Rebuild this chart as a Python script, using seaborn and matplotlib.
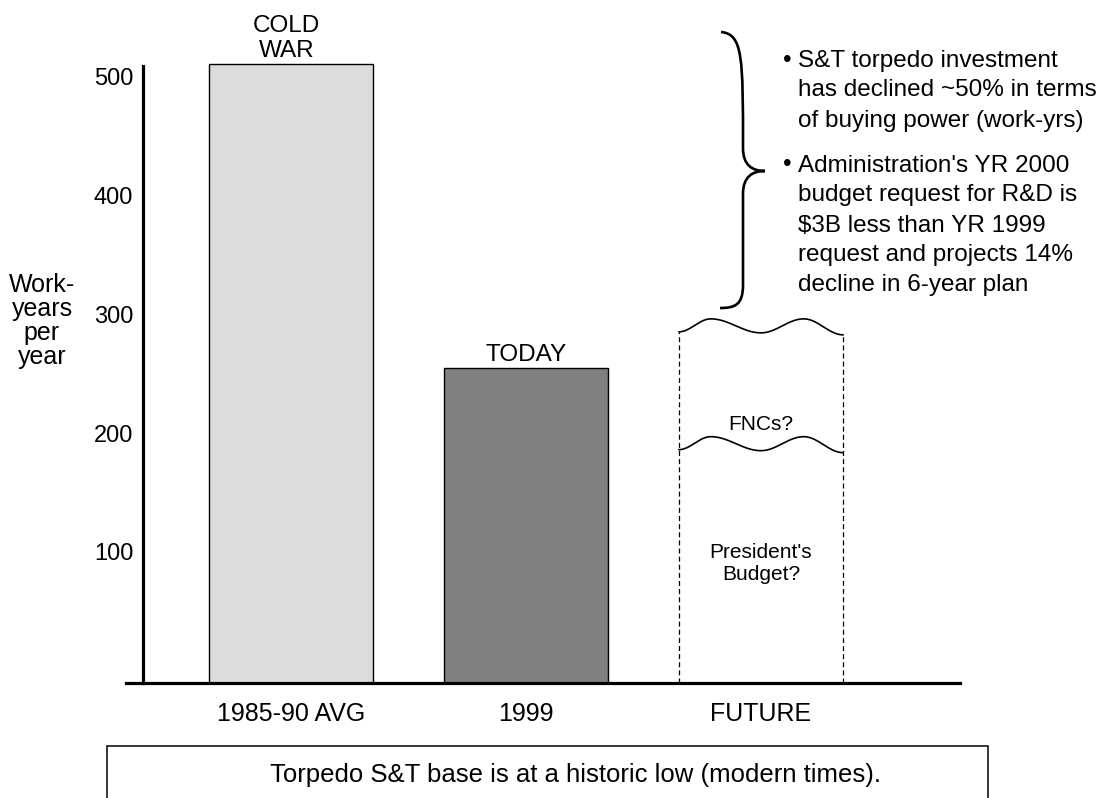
import numpy as np
import pandas as pd
import matplotlib
matplotlib.use("Agg")
import matplotlib.pyplot as plt
import matplotlib.transforms as mtransforms
from matplotlib.path import Path
from matplotlib.patches import PathPatch, Rectangle
import seaborn as sns

# ---------------- data ----------------
categories = ["1985-90 AVG", "1999", "FUTURE"]
bar_values = [520, 265]                 # work-years per year
bar_labels = ["COLD\nWAR", "TODAY"]
bar_colors = ["#dcdcdc", "#808080"]
future_upper = 306                      # top of "FNCs?" band
future_lower = 207                      # top of "President's Budget?" band
future_texts = ["FNCs?", "President's\nBudget?"]
yticks = [100, 200, 300, 400, 500]
ylabel = "Work-\nyears\nper\nyear"
bullets = [
    ["S&T torpedo investment", "has declined ~50% in terms", "of buying power (work-yrs)"],
    ["Administration's YR 2000", "budget request for R&D is", "$3B less than YR 1999",
     "request and projects 14%", "decline in 6-year plan"],
]
footer = "Torpedo S&T base is at a historic low (modern times)."

# ---------------- setup ----------------
W, H, DPI = 1108, 798, 100
sns.set_theme(style="white")
plt.rcParams['font.family'] = ['Liberation Sans', 'DejaVu Sans']
FS = 17.5
FS_SMALL = 15

fig = plt.figure(figsize=(W / DPI, H / DPI), dpi=DPI)
fig.patch.set_facecolor("white")

def fx(px):
    return px / W

def fy(py):
    return 1 - py / H

PX_PER_UNIT = 1.19
ax = fig.add_axes([fx(126), fy(683), fx(960) - fx(126), fy(0) - fy(683)])
ax.set_facecolor("white")

df = pd.DataFrame({"period": categories[:2], "value": bar_values})
sns.barplot(data=df, x="period", y="value", hue="period", order=categories,
            hue_order=categories[:2], palette=dict(zip(categories[:2], bar_colors)),
            width=0.7, edgecolor="black", linewidth=1.0, legend=False, ax=ax,
            saturation=1)

ax.set_xlim(-0.702, 2.847)
ax.set_ylim(0, 683 / PX_PER_UNIT)
ax.set_xlabel("")
ax.set_ylabel("")

for s in ["top", "right"]:
    ax.spines[s].set_visible(False)
ax.spines["bottom"].set_linewidth(2.3)
ax.spines["bottom"].set_color("black")
ax.spines["left"].set_linewidth(2.3)
ax.spines["left"].set_color("black")
ax.spines["left"].set_position(("data", -0.63))
ax.spines["left"].set_bounds(0, (683 - 66) / PX_PER_UNIT)

ax.set_yticks(yticks)
ax.set_yticklabels([str(v) for v in yticks])
ax.tick_params(axis="y", length=0, pad=7, labelsize=17, colors="black")
ax.tick_params(axis="x", length=0, pad=13.5, labelsize=18, colors="black")
shift = mtransforms.ScaledTranslation(0, 0.12, fig.dpi_scale_trans)
for lbl in ax.get_yticklabels():
    lbl.set_transform(lbl.get_transform() + shift)

# labels above bars
for i, (v, lab) in enumerate(zip(bar_values, bar_labels)):
    ax.annotate(lab, xy=(i, v), xytext=(-3 if i == 0 else 0, 1.5),
                textcoords="offset points", ha="center", va="bottom",
                fontsize=FS, linespacing=1.2, color="black")

# future (undetermined) bar: dashed sides and wavy tops
def wave(t):
    tp = np.array([0.0, 0.195, 0.5, 0.76, 1.0])
    dp = np.array([-13.0, 0.0, -14.0, 0.0, -16.0]) / PX_PER_UNIT
    out = np.empty_like(t)
    for k in range(len(tp) - 1):
        m = (t >= tp[k]) & (t <= tp[k + 1])
        u = (t[m] - tp[k]) / (tp[k + 1] - tp[k])
        e = (1 - np.cos(np.pi * u)) / 2
        out[m] = dp[k] + (dp[k + 1] - dp[k]) * e
    return out

x0, x1 = 2 - 0.35, 2 + 0.35
t = np.linspace(0, 1, 200)
xs = x0 + (x1 - x0) * t
for level in (future_upper, future_lower):
    ax.plot(xs, level + wave(t), color="black", lw=1.2, solid_capstyle="round")
tops = future_upper + wave(np.array([0.0, 1.0]))
ax.vlines([x0, x1], 0, tops, colors="black", linestyles=(0, (4, 2.5)), lw=0.9)
ax.text(2, future_lower + 10, future_texts[0], ha="center", va="center",
        fontsize=FS_SMALL, color="black")
ax.text(2, 100, future_texts[1], ha="center", va="center",
        fontsize=FS_SMALL, linespacing=1.2, color="black")

# y label (va="baseline" aligns the last line here)
fig.text(fx(42), fy(364), ylabel, ha="center", va="baseline", fontsize=18,
         linespacing=1.0, multialignment="center", color="black")

# brace
P = lambda x, y: (fx(x), fy(y))
verts = [P(721, 32), P(743, 34), P(743, 58),
         P(743, 148),
         P(743, 165), P(752, 171), P(765, 171),
         P(752, 171), P(743, 177), P(743, 194),
         P(743, 285),
         P(743, 305), P(735, 308), P(720, 308)]
codes = [Path.MOVETO, Path.CURVE4, Path.CURVE4,
         Path.LINETO,
         Path.CURVE4, Path.CURVE4, Path.CURVE4,
         Path.CURVE4, Path.CURVE4, Path.CURVE4,
         Path.LINETO,
         Path.CURVE4, Path.CURVE4, Path.CURVE4]
fig.add_artist(PathPatch(Path(verts, codes), fill=False, lw=1.9,
                         edgecolor="black", transform=fig.transFigure))

# bullet text
line_centers = [[58, 88, 118], [163, 193, 223, 253, 283]]
for lines, ys in zip(bullets, line_centers):
    fig.text(fx(787), fy(ys[0] + 8.5), "\u2022", ha="center", va="baseline",
             fontsize=FS, color="black")
    for txt, yc in zip(lines, ys):
        fig.text(fx(798), fy(yc + 8.5), txt, ha="left", va="baseline",
                 fontsize=FS, color="black")

# footer box
fig.add_artist(Rectangle((fx(107), fy(800)), fx(988) - fx(107), fy(746) - fy(800),
                         fill=False, lw=1.1, edgecolor="black",
                         transform=fig.transFigure, clip_on=False))
fig.text(fx(576), fy(773 + 9), footer, ha="center", va="baseline",
         fontsize=18.5, color="black")

fig.savefig("out.png", dpi=DPI, facecolor="white")
